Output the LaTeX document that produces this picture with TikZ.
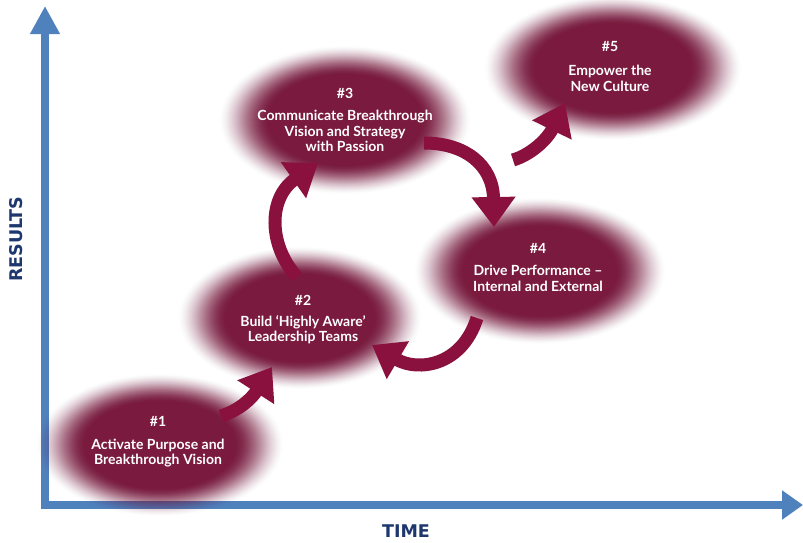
\documentclass[tikz,border=0pt]{standalone}
\usepackage{fontspec}
\setmainfont{Lato}
\newfontfamily\axisfont{DejaVu Sans}
\usetikzlibrary{arrows.meta}
\definecolor{axisblue}{RGB}{79,129,189}
\definecolor{axistext}{RGB}{30,55,110}
\definecolor{glowmaroon}{RGB}{122,26,62}
\definecolor{arrowmaroon}{RGB}{138,17,62}
% soft-edged ellipse: stacked layers whose cumulative opacity follows a smoothstep
\newcommand\glowblob[3]{%
  \foreach \k in {1,...,50}{%
    \pgfmathsetmacro\gta{(\k-1)/50}%
    \pgfmathsetmacro\gtb{\k/50}%
    \pgfmathsetmacro\goa{3*\gta*\gta-2*\gta*\gta*\gta}%
    \pgfmathsetmacro\gob{3*\gtb*\gtb-2*\gtb*\gtb*\gtb}%
    \pgfmathsetmacro\galpha{min(1,max(0,1-(1-\gob)/(1-\goa)))}%
    \pgfmathsetmacro\gs{1-0.42*(\k-1)/49}%
    \fill[glowmaroon, opacity=\galpha] (#1) ellipse [x radius=#2*\gs, y radius=#3*\gs];
  }%
}
\tikzset{
  blobtext/.style={text=white, font=\bfseries\fontsize{14}{15.5}\selectfont, align=center, inner sep=0pt},
  axisline/.style={draw=axisblue, line width=8pt},
  flowarrow/.style={draw=arrowmaroon, line width=13pt, -{Triangle[width=42pt,length=30pt]}},
  axislabel/.style={text=axistext, font=\axisfont\bfseries\fontsize{17.5}{20}\selectfont, inner sep=0pt}
}
\begin{document}
\begin{tikzpicture}[x=1pt,y=-1pt]
\useasboundingbox (0,0) rectangle (803,542);
\fill[white] (0,0) rectangle (803,542);
% axes
\coordinate (origin) at (45,509);
\coordinate (ytop) at (45,6);
\coordinate (xstart) at (41,505);
\coordinate (xend) at (803,505);
\draw[axisline, -{Triangle[width=28pt,length=28pt]}] (origin) -- (ytop);
\draw[axisline, -{Triangle[width=28pt,length=21pt]}] (xstart) -- (xend);
\node[axislabel, rotate=90] (results) at (16,239) {RESULTS};
\node[axislabel] (time) at (406,531) {TIME};
% glowing ellipses
\glowblob{160,445}{125}{72}
\glowblob{300,318}{123}{72}
\glowblob{345,120}{127}{75}
\glowblob{540,271}{127}{74}
\glowblob{613,68}{130}{73}
% texts
\node[blobtext] (s1) at (158,442) {\#1\\[7pt]Activate Purpose and\\Breakthrough Vision};
\node[blobtext] (s2) at (303,320) {\#2\\[5pt]Build ‘Highly Aware’\\Leadership Teams};
\node[blobtext] (s3) at (345,120) {\#3\\[7pt]Communicate Breakthrough\\Vision and Strategy\\with Passion};
\node[blobtext] (s4) at (538,267) {\#4\\[7pt]Drive Performance –\\Internal and External};
\node[blobtext] (s5) at (610,66) {\#5\\[9pt]Empower the\\New Culture};
% arrow end points
\coordinate (a1s) at (221,416); \coordinate (a1e) at (272,367);
\coordinate (a2s) at (297,277); \coordinate (a2e) at (318,163);
\coordinate (a3s) at (424,143); \coordinate (a3e) at (494,227);
\coordinate (a4s) at (477,318); \coordinate (a4e) at (372,345);
\coordinate (a5s) at (513,160); \coordinate (a5e) at (565,103);
% arrows
\draw[flowarrow] (a1s) .. controls (240,410) and (252,398) .. (a1e);
\draw[flowarrow] (a2s) .. controls (268,245) and (268,198) .. (a2e);
\draw[flowarrow] (a3s) .. controls (465,143) and (493,165) .. (a3e);
\draw[flowarrow] (a4s) .. controls (462,366) and (418,372) .. (a4e);
\draw[flowarrow] (a5s) .. controls (530,155) and (547,140) .. (a5e);
\end{tikzpicture}
\end{document}
